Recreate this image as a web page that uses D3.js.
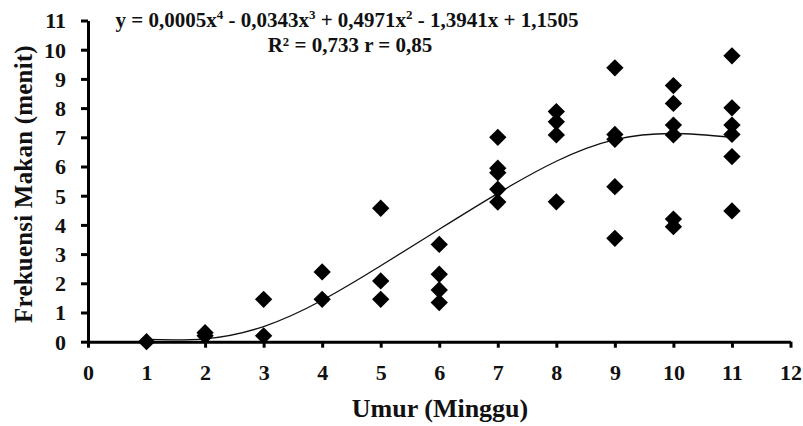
<!DOCTYPE html>
<html>
<head>
<meta charset="utf-8">
<script src="https://cdn.jsdelivr.net/npm/d3@7"></script>
</head>
<body style="margin:0;background:#fff">
<svg id="chart" width="803" height="426" style="display:block"></svg>
<script>
// ---- data ----
const weeks = [1, 2, 3, 4, 5, 6, 7, 8, 9, 10, 11];
const obsWeek = [
  1,
  2, 2,
  3, 3,
  4, 4,
  5, 5, 5,
  6, 6, 6, 6,
  7, 7, 7, 7, 7,
  8, 8, 8, 8,
  9, 9, 9, 9, 9,
  10, 10, 10, 10, 10, 10,
  11, 11, 11, 11, 11, 11
];
const obsFreq = [
  0.0,
  0.31, 0.2,
  1.45, 0.2,
  2.39, 1.45,
  4.57, 2.08, 1.45,
  3.33, 2.31, 1.77, 1.34,
  7.0, 5.94, 5.79, 5.22, 4.78,
  7.88, 7.53, 7.08, 4.79,
  9.38, 7.1, 6.93, 5.31, 3.54,
  8.77, 8.16, 7.42, 7.08, 4.2, 3.94,
  9.79, 8.01, 7.42, 7.1, 6.34, 4.48
];
// trendline values at each week
const trendFreq = [0.08, 0.1, 0.52, 1.42, 2.6, 3.85, 5.08, 6.18, 6.92, 7.13, 7.0];
const xTicks = [0, 1, 2, 3, 4, 5, 6, 7, 8, 9, 10, 11, 12];
const yTicks = [0, 1, 2, 3, 4, 5, 6, 7, 8, 9, 10, 11];
const xTitle = "Umur (Minggu)";
const yTitle = "Frekuensi Makan (menit)";

// ---- drawing ----
const FONT = "Liberation Serif";
const svg = d3.select("#chart");
const x = d3.scaleLinear().domain([0, 12]).range([88, 790.5]);
const y = d3.scaleLinear().domain([0, 11]).range([341.7, 20.5]);

// axes
const yAxis = d3.axisLeft(y).tickValues(yTicks).tickSize(7).tickSizeOuter(0).tickPadding(15);
const xAxis = d3.axisBottom(x).tickValues(xTicks).tickSize(6).tickSizeOuter(0).tickPadding(17);

const gy = svg.append("g").attr("transform", `translate(${x(0)},0)`).call(yAxis);
const gx = svg.append("g").attr("transform", `translate(0,${y(0)})`).call(xAxis);

[gx, gy].forEach(g => {
  g.attr("font-family", FONT).attr("font-size", 22).attr("font-weight", "bold");
  g.select(".domain").attr("stroke", "#000").attr("stroke-width", 3);
  g.selectAll(".tick line").attr("stroke", "#000").attr("stroke-width", 3);
  g.selectAll(".tick text")
    .attr("font-family", FONT)
    .attr("font-weight", "bold")
    .attr("font-size", 22)
    .attr("fill", "#111");
});
gy.selectAll(".tick text").attr("dy", "0.34em");

// trendline
const line = d3.line()
  .x((d, i) => x(weeks[i]))
  .y(d => y(d))
  .curve(d3.curveNatural);
svg.append("path")
  .datum(trendFreq)
  .attr("d", line)
  .attr("fill", "none")
  .attr("stroke", "#111")
  .attr("stroke-width", 1.3);

// points
const sym = d3.symbol().type(d3.symbolSquare).size(150);
svg.append("g").selectAll("path")
  .data(obsFreq)
  .join("path")
  .attr("d", sym)
  .attr("transform", (d, i) => `translate(${x(obsWeek[i])},${y(d)}) rotate(45)`)
  .attr("fill", "#000");

// axis titles
svg.append("text")
  .attr("x", 440).attr("y", 417)
  .attr("text-anchor", "middle")
  .attr("font-family", FONT)
  .attr("font-weight", "bold")
  .attr("font-size", 26)
  .attr("fill", "#111")
  .text(xTitle);

svg.append("text")
  .attr("transform", "translate(32,184) rotate(-90)")
  .attr("text-anchor", "middle")
  .attr("font-family", FONT)
  .attr("font-weight", "bold")
  .attr("font-size", 25)
  .attr("letter-spacing", 0.2)
  .attr("fill", "#111")
  .text(yTitle);

// equation
const eq = svg.append("text")
  .attr("x", 347).attr("y", 27)
  .attr("text-anchor", "middle")
  .attr("font-family", FONT)
  .attr("font-weight", "bold")
  .attr("font-size", 21)
  .attr("fill", "#111");
const parts = [
  ["y = 0,0005x", ""], ["4", "sup"], [" - 0,0343x", ""], ["3", "sup"],
  [" + 0,4971x", ""], ["2", "sup"], [" - 1,3941x + 1,1505", ""]
];
parts.forEach(([t, k], i) => {
  const ts = eq.append("tspan").text(t);
  if (k === "sup") ts.attr("dy", -8).attr("font-size", 13);
  else if (i > 0) ts.attr("dy", 8);
});

svg.append("text")
  .attr("x", 350).attr("y", 52)
  .attr("text-anchor", "middle")
  .attr("font-family", FONT)
  .attr("font-weight", "bold")
  .attr("font-size", 21)
  .attr("fill", "#111")
  .text("R² = 0,733 r = 0,85");
</script>
</body>
</html>
